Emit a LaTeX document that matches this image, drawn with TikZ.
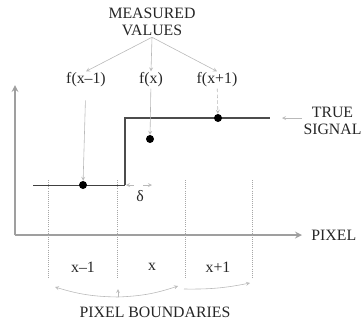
\documentclass[tikz,border=0pt]{standalone}
\usepackage{fontspec}
\setmainfont{Liberation Serif}
\usetikzlibrary{arrows}

\begin{document}
\begin{tikzpicture}[x=0.03cm, y=-0.03cm, >=stealth, font=\fontsize{13.5}{14.5}\selectfont,
  lbl/.style={text=black!85, inner sep=1pt},
  dot/.style={circle, fill=black, inner sep=0pt, minimum size=0.24cm},
  ptr/.style={->, gray!55, line width=0.5pt},
  bnd/.style={gray!70, densely dotted, line width=0.8pt},
  axis/.style={->, gray!75, line width=1.6pt}]
  \useasboundingbox (0,0) rectangle (361,325);
  % Nodes
  \node[lbl, align=center] (M)  at (152,22)  {MEASURED\\VALUES};
  \node[lbl] (F1) at (86,80)  {f(x--1)};
  \node[lbl] (F2) at (151,80) {f(x)};
  \node[lbl] (F3) at (217,80) {f(x+1)};
  \node[lbl, align=center] (TS) at (332.5,121) {TRUE\\SIGNAL};
  \node[lbl, anchor=west] (PX) at (310,235) {PIXEL};
  \node[lbl] (B1) at (83,267)  {x--1};
  \node[lbl] (B2) at (152,267) {x};
  \node[lbl] (B3) at (218,267) {x+1};
  \node[lbl] (PB) at (155,312) {PIXEL BOUNDARIES};
  \node[lbl] (DL) at (140,196) {δ};
  % Axes
  \coordinate (O)  at (15,235);
  \coordinate (YT) at (15,85);
  \coordinate (XT) at (302,235);
  \draw[axis] (O) -- (YT);
  \draw[axis] (O) -- (XT);
  % Pixel boundaries
  \foreach \x in {48,117,185,252}
    \draw[bnd] (\x,180) -- (\x,278);
  % True signal (step)
  \coordinate (S0) at (33,185);
  \coordinate (S1) at (125,185);
  \coordinate (S2) at (125,118);
  \coordinate (S3) at (270,118);
  \draw[black!75, line width=0.8pt] (S0) -- (S1);
  \draw[black!70, line width=1.5pt] (S1) -- (S2) -- (S3);
  \coordinate (T0) at (282,118);
  \draw[ptr] (TS.west |- T0) -- (T0);
  % Sampled values
  \node[dot] (D1) at (83,185)  {};
  \node[dot] (D2) at (150,139) {};
  \node[dot] (D3) at (218,118) {};
  \draw[ptr, shorten <=0.35cm] (F1) -- (D1);
  \draw[ptr] (F2) -- (D2);
  \draw[ptr, densely dashed] (F3) -- (D3);
  % Measured values arrows
  \draw[ptr] (M.south) -- (F1.north);
  \draw[ptr] (M.south) -- (F2.north);
  \draw[ptr] (M.south) -- (F3.north);
  % Offset delta
  \coordinate (E0) at (134,185);
  \coordinate (E1) at (126,185);
  \coordinate (E2) at (143,185);
  \coordinate (E3) at (152,185);
  \draw[ptr] (E0) -- (E1);
  \draw[ptr] (E2) -- (E3);
  % Boundary pointers
  \coordinate (P0) at (118,297);
  \coordinate (P1) at (55,287);
  \coordinate (P2) at (118,289);
  \coordinate (P3) at (178,286);
  \coordinate (P4) at (184,289);
  \coordinate (P5) at (250,283);
  \draw[ptr] (P0) to[bend left=8] (P1);
  \draw[ptr] (P0) -- (P2);
  \draw[ptr] (P0) to[bend right=8] (P3);
  \draw[ptr] (P4) to[bend right=6] (P5);
\end{tikzpicture}
\end{document}
